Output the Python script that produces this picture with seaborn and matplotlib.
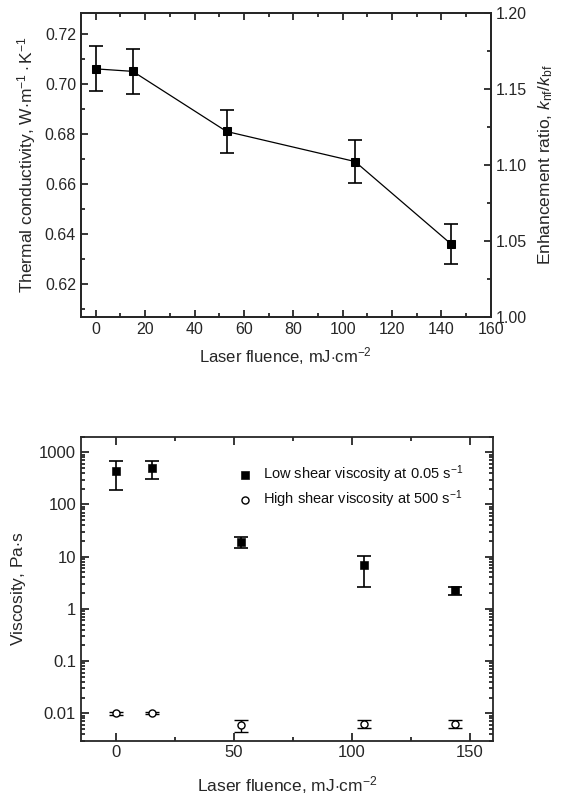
import numpy as np
import pandas as pd
import matplotlib
matplotlib.use("Agg")
import matplotlib.pyplot as plt
import seaborn as sns
from matplotlib.ticker import MultipleLocator, LogLocator, NullFormatter, FixedLocator

# top panel: thermal conductivity vs laser fluence
fluence_k = [0, 15, 53, 105, 144]
k_values = [0.706, 0.705, 0.681, 0.669, 0.636]
k_err = [0.009, 0.009, 0.0086, 0.0087, 0.0081]
k_base = 0.607  # base fluid conductivity used for the ratio axis

# bottom panel: viscosity vs laser fluence
fluence_v = [0, 15, 53, 105, 144]
low_shear = [440, 508, 18.7, 6.8, 2.26]
low_lo = [185, 304, 14.8, 2.65, 1.87]
low_hi = [682, 682, 23.3, 10.1, 2.62]
high_shear = [0.0099, 0.0101, 0.0060, 0.00635, 0.0063]
high_lo = [0.0094, 0.0096, 0.0043, 0.0053, 0.0052]
high_hi = [0.0104, 0.0106, 0.0073, 0.0073, 0.0073]

sns.set_theme(style="ticks")
plt.rcParams["font.family"] = ["Liberation Sans", "DejaVu Sans"]
plt.rcParams["mathtext.fontset"] = "custom"
plt.rcParams["mathtext.rm"] = "Liberation Sans"
plt.rcParams["mathtext.it"] = "Liberation Sans:italic"
plt.rcParams["axes.linewidth"] = 1.3
plt.rcParams["xtick.direction"] = "in"
plt.rcParams["ytick.direction"] = "in"
plt.rcParams["text.color"] = "#111111"

fig = plt.figure(figsize=(5.7, 7.98), dpi=100)
ax1 = fig.add_axes([0.142, 0.603, 0.719, 0.381])
ax2 = fig.add_axes([0.142, 0.072, 0.723, 0.381])

# ---- top panel
df_k = pd.DataFrame({"fluence": fluence_k, "k": k_values, "err": k_err})
sns.lineplot(data=df_k, x="fluence", y="k", ax=ax1, color="black", lw=0.9,
             marker="s", markersize=5.5, markeredgecolor="black")
ax1.errorbar(df_k["fluence"], df_k["k"], yerr=df_k["err"], fmt="none",
             ecolor="black", elinewidth=1.2, capsize=5, capthick=1.2)
ax1.set_xlim(-6, 160)
ax1.set_ylim(k_base, k_base * 1.2)
ax1.xaxis.set_major_locator(MultipleLocator(20))
ax1.xaxis.set_minor_locator(MultipleLocator(10))
ax1.yaxis.set_major_locator(MultipleLocator(0.02))
ax1.yaxis.set_minor_locator(MultipleLocator(0.01))
ax1.tick_params(which="both", top=True, labelsize=11.5, width=1.3)
ax1.tick_params(which="major", length=5)
ax1.tick_params(which="minor", length=3)
ax1.set_xlabel("Laser fluence, mJ$\\cdot$cm$^{-2}$", fontsize=12, labelpad=6)
ax1.set_ylabel("Thermal conductivity, W$\\cdot$m$^{-1}\\cdot$K$^{-1}$", fontsize=12.5, labelpad=5)

ax1r = ax1.twinx()
ax1r.set_ylim(1.0, 1.2)
ax1r.yaxis.set_major_locator(MultipleLocator(0.05))
ax1r.yaxis.set_minor_locator(MultipleLocator(0.025))
ax1r.tick_params(which="both", labelsize=11.5, width=1.3)
ax1r.tick_params(which="major", length=5)
ax1r.tick_params(which="minor", length=3)
ax1r.set_ylabel("Enhancement ratio, $\\mathit{k}_{\\mathregular{nf}}$/$\\mathit{k}_{\\mathregular{bf}}$",
                fontsize=12.5, labelpad=7)
for sp in ax1r.spines.values():
    sp.set_linewidth(1.3)

# ---- bottom panel
df_v = pd.DataFrame({"fluence": fluence_v, "low": low_shear, "high": high_shear})
sns.scatterplot(data=df_v, x="fluence", y="low", ax=ax2, marker="s", s=30,
                color="black", edgecolor="black", zorder=3,
                label="Low shear viscosity at 0.05 s$^{-1}$")
sns.scatterplot(data=df_v, x="fluence", y="high", ax=ax2, marker="o", s=26,
                facecolor="white", edgecolor="black", linewidth=1, zorder=3,
                label="High shear viscosity at 500 s$^{-1}$")
low_err = [np.array(low_shear) - np.array(low_lo), np.array(low_hi) - np.array(low_shear)]
high_err = [np.array(high_shear) - np.array(high_lo), np.array(high_hi) - np.array(high_shear)]
ax2.errorbar(fluence_v, low_shear, yerr=low_err, fmt="none", ecolor="black",
             elinewidth=1.2, capsize=5, capthick=1.2)
ax2.errorbar(fluence_v, high_shear, yerr=high_err, fmt="none", ecolor="black",
             elinewidth=1.0, capsize=5, capthick=1.0)
ax2.set_yscale("log")
ax2.set_xlim(-15, 160)
ax2.set_ylim(0.003, 2000)
ax2.xaxis.set_major_locator(MultipleLocator(50))
ax2.xaxis.set_minor_locator(MultipleLocator(25))
ax2.yaxis.set_major_locator(FixedLocator([0.01, 0.1, 1, 10, 100, 1000]))
ax2.set_yticklabels(["0.01", "0.1", "1", "10", "100", "1000"])
ax2.yaxis.set_minor_locator(LogLocator(base=10, subs=np.arange(2, 10)))
ax2.yaxis.set_minor_formatter(NullFormatter())
ax2.tick_params(which="both", top=True, right=True, labelsize=12, width=1.3)
ax2.tick_params(which="major", length=6)
ax2.tick_params(which="minor", length=3)
ax2.set_xlabel("Laser fluence, mJ$\\cdot$cm$^{-2}$", fontsize=12.5, labelpad=10)
ax2.set_ylabel("Viscosity, Pa$\\cdot$s", fontsize=12.5, labelpad=8)
ax2.legend(loc="upper left", bbox_to_anchor=(0.34, 0.955), frameon=False,
           fontsize=10.5, handletextpad=0.5, labelspacing=0.25, handlelength=1.5)

fig.savefig("out.png", dpi=100)
